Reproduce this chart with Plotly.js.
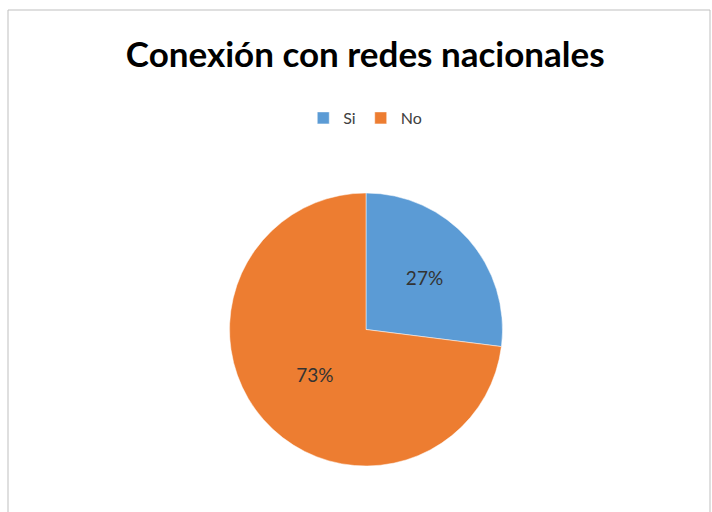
<!DOCTYPE html>
<html>
<head>
<meta charset="utf-8">
<script src="https://cdn.plot.ly/plotly-3.0.1.min.js"></script>
<style>
html,body{margin:0;padding:0;background:#fff;}
#chart{width:712px;height:512px;}
</style>
</head>
<body>
<div id="chart"></div>
<script>
const categories = ["Si", "No"];
const values = [27, 73];
const colors = ["#5B9BD5", "#ED7D31"];
const chartTitle = "Conexión con redes nacionales";

const W = 712, H = 512;
const trace = {
  type: "pie",
  labels: categories,
  values: values,
  sort: false,
  direction: "clockwise",
  rotation: 0,
  marker: {colors: colors, line: {color: "#ffffff", width: 0.5}},
  textinfo: "percent",
  texttemplate: "%{percent:.0%}",
  textposition: "inside",
  insidetextorientation: "horizontal",
  textfont: {family: "Lato, 'Open Sans', sans-serif", size: 19, color: "#333333"},
  hoverinfo: "label+percent",
  domain: {x: [229/W, 503/W], y: [(H-466)/H, (H-193)/H]}
};

const layout = {
  width: W, height: H,
  margin: {l: 0, r: 0, t: 0, b: 0},
  paper_bgcolor: "#ffffff",
  title: {
    text: "<b>" + chartTitle + "</b>",
    font: {family: "Lato, 'Open Sans', sans-serif", size: 35, color: "#000000"},
    x: 0.513, xanchor: "center", y: 1 - 55/H, yanchor: "middle"
  },
  showlegend: true,
  legend: {
    orientation: "h",
    x: 0.513, xanchor: "center",
    y: 1 - 118/H, yanchor: "middle",
    font: {family: "Lato, 'Open Sans', sans-serif", size: 16, color: "#404040"},
    itemwidth: 30,
    traceorder: "normal"
  },
  shapes: [{
    type: "rect", xref: "paper", yref: "paper",
    x0: 8/W, x1: 710/W, y0: -0.01, y1: 1 - 10/H,
    line: {color: "#bfbfbf", width: 1}
  }]
};

Plotly.newPlot("chart", [trace], layout, {displayModeBar: false, staticPlot: true});
</script>
</body>
</html>
